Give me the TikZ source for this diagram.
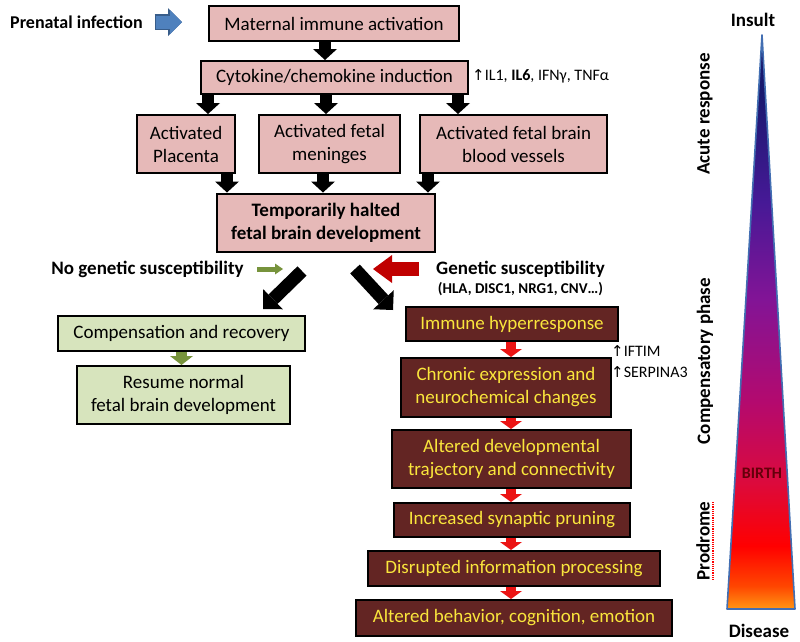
\documentclass[tikz,border=0pt]{standalone}
\usepackage{fontspec}
\setmainfont{Carlito}
\newfontfamily\arrowfont{DejaVu Sans}
\usetikzlibrary{arrows.meta,positioning}

\definecolor{pinkfill}{RGB}{230,185,184}
\definecolor{greenfill}{RGB}{215,228,189}
\definecolor{maroonfill}{RGB}{99,37,35}
\definecolor{boxtext}{RGB}{250,230,60}
\definecolor{olivearr}{RGB}{119,147,60}
\definecolor{bluefill}{RGB}{79,129,189}
\definecolor{blueedge}{RGB}{56,93,138}
\definecolor{bigred}{RGB}{192,0,0}
\definecolor{chainred}{RGB}{235,20,20}
\definecolor{birthred}{RGB}{100,0,10}
\definecolor{triedge}{RGB}{66,110,178}
\definecolor{shA}{RGB}{255,150,20}
\definecolor{shB}{RGB}{255,70,0}
\definecolor{shC}{RGB}{255,0,0}
\definecolor{shD}{RGB}{220,10,60}
\definecolor{shE}{RGB}{180,10,110}
\definecolor{shF}{RGB}{130,20,150}
\definecolor{shG}{RGB}{70,25,150}
\definecolor{shH}{RGB}{25,25,110}
\pgfdeclareverticalshading{phases}{100bp}{color(0bp)=(shA); color(25bp)=(shA);
  color(27bp)=(shB); color(30.5bp)=(shC); color(36bp)=(shD); color(43bp)=(shE);
  color(52bp)=(shF); color(60.5bp)=(shG); color(70bp)=(shH); color(100bp)=(shH)}
\newcommand{\uparr}{{\arrowfont\fontsize{15}{17}\selectfont ↑}}

\begin{document}
\begin{tikzpicture}[x=1pt,y=-1pt,
    pinkbox/.style={draw,line width=2pt,fill=pinkfill,align=center,inner sep=2pt,
      font=\fontsize{19}{23}\selectfont},
    greenbox/.style={pinkbox,fill=greenfill},
    darkbox/.style={pinkbox,fill=maroonfill,text=boxtext},
    lbl/.style={inner sep=0pt,font=\bfseries\fontsize{19}{23}\selectfont},
    small/.style={inner sep=0pt,font=\fontsize{16}{19}\selectfont},
    blkarr/.style={line width=12pt,-{Triangle[width=24pt,length=11pt,line width=0pt]}},
    diagarr/.style={line width=13pt,-{Triangle[width=28pt,length=14pt,line width=0pt]}},
    chainarr/.style={chainred,line width=10pt,-{Triangle[width=22pt,length=8pt,line width=0pt]}},
    grnarr/.style={olivearr,line width=11pt,-{Triangle[width=23pt,length=9pt,line width=0pt]}},
    grnsm/.style={olivearr,line width=5pt,-{Triangle[width=11pt,length=8pt,line width=0pt]}},
    redbig/.style={bigred,line width=14pt,-{Triangle[width=28pt,length=19pt,line width=0pt]}},
    bluearr/.style={bluefill,line width=13pt,-{Triangle[width=24pt,length=12pt,line width=0pt]},
      preaction={draw=blueedge,line width=15.5pt,shorten <=-1.5pt,
        -{Triangle[width=28pt,length=14pt,line width=0pt]}}}]
  \useasboundingbox (0,0) rectangle (800,641);
  % upper part
  \node[pinkbox,minimum width=250pt,minimum height=35pt] (mat) at (334,23.5) {Maternal immune activation};
  \node[pinkbox,minimum width=267pt,minimum height=33pt] (cyt) at (334.5,77.5) {Cytokine/chemokine induction};
  \node[pinkbox,minimum width=98pt,minimum height=58pt] (plac) at (186,144) {Activated\\Placenta};
  \node[pinkbox,minimum width=141pt,minimum height=58pt] (men) at (329.5,144) {Activated fetal\\meninges};
  \node[pinkbox,minimum width=187pt,minimum height=58pt] (vess) at (513.5,144) {Activated fetal brain\\blood vessels};
  \node[pinkbox,minimum width=218pt,minimum height=58pt,font=\bfseries\fontsize{19}{23}\selectfont] (halt)
    at (326,222.5) {Temporarily halted\\fetal brain development};
  \node[lbl,font=\bfseries\fontsize{18}{22}\selectfont,anchor=west] (pren) at (10,22) {Prenatal infection};
  \node[small,anchor=west] (cytlab) at (472,76) {\uparr IL1, \textbf{IL6}, IFNγ, TNFα};
  \draw[bluearr] (156,0 |- pren.east) -- ++(26,0);
  \draw[blkarr] (325,0 |- mat.south) -- (325,0 |- cyt.north);
  \foreach \x in {208,326,458}
    \draw[blkarr] (\x,0 |- cyt.south) -- (\x,0 |- men.north);
  \foreach \x in {227,323,428}
    \draw[blkarr] (\x,0 |- men.south) -- (\x,0 |- halt.north);

  % split
  \node[lbl] (nogen) at (147.5,269) {No genetic susceptibility};
  \node[lbl] (gen) at (520.5,269) {Genetic susceptibility};
  \node[lbl,font=\bfseries\fontsize{15}{18}\selectfont] (genlist) at (520.5,289) {(HLA, DISC1, NRG1, CNV…)};
  \coordinate (ltail) at (302,271);
  \coordinate (lhead) at (263,309);
  \coordinate (rtail) at (355,269);
  \coordinate (rhead) at (393,310);
  \draw[diagarr] (ltail) -- (lhead);
  \draw[diagarr] (rtail) -- (rhead);
  \draw[grnsm] (257,0 |- nogen.east) -- ++(26,0);
  \draw[redbig] (419,0 |- gen.west) -- ++(-46,0);

  % no susceptibility
  \node[greenbox,minimum width=247pt,minimum height=35pt] (comp) at (181.5,333.5) {Compensation and recovery};
  \node[greenbox,minimum width=213pt,minimum height=58pt] (resume) at (183.5,395) {Resume normal\\fetal brain development};
  \draw[grnarr] (comp.south) -- (comp.south |- resume.north);

  % susceptibility
  \node[darkbox,minimum width=212pt,minimum height=34pt] (hyper) at (512,324) {Immune hyperresponse};
  \node[darkbox,minimum width=210pt,minimum height=59pt] (chron) at (506,387.5) {Chronic expression and\\neurochemical changes};
  \node[darkbox,minimum width=239pt,minimum height=58pt] (alt) at (511.5,459) {Altered developmental\\trajectory and connectivity};
  \node[darkbox,minimum width=236pt,minimum height=34pt] (prun) at (512,520) {Increased synaptic pruning};
  \node[darkbox,minimum width=292pt,minimum height=35pt] (disr) at (514,568.5) {Disrupted information processing};
  \node[darkbox,minimum width=316pt,minimum height=36pt] (behav) at (514,618) {Altered behavior, cognition, emotion};
  \foreach \a/\b in {hyper/chron,chron/alt,alt/prun,prun/disr,disr/behav}
    \draw[chainarr] (\a.south -| 511,0) -- (\b.north -| 511,0);
  \node[small,anchor=west] (iftim) at (611,351) {\uparr IFTIM};
  \node[small,anchor=west] (serp) at (611,372) {\uparr SERPINA3};

  % time axis
  \shadedraw[shading=phases,draw=triedge,line width=1.6pt,line join=round]
    (762,35) -- (795,609) -- (727,609) -- cycle;
  \node[lbl] (ins) at (753,20) {Insult};
  \node[lbl] (dis) at (759,631) {Disease};
  \node[lbl,rotate=90] (acute) at (705,114) {Acute response};
  \node[lbl,rotate=90] (compph) at (705,361) {Compensatory phase};
  \node[lbl,rotate=90] (prod) at (703,541) {Prodrome};
  \draw[red,densely dotted,line width=1.2pt] (713,502) -- (713,580);
  \node[lbl,font=\bfseries\fontsize{16}{19}\selectfont,text=birthred] (birth) at (762,473) {BIRTH};
\end{tikzpicture}
\end{document}
